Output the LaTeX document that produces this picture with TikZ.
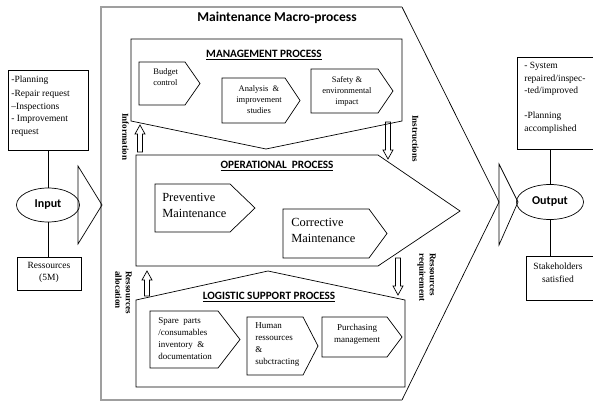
\documentclass[tikz,border=0pt]{standalone}
\usepackage{fontspec}
\setmainfont{Liberation Serif}
\newfontfamily\headfont{Carlito}
\usepackage{xcolor}
\usepackage{tikz}
\usetikzlibrary{shapes.geometric}

\begin{document}
\begin{tikzpicture}[x=1pt,y=-1pt,line width=0.7pt,
    frame/.style={draw=gray!75,line width=1.5pt},
    sidebox/.style={draw,rectangle,inner sep=0pt,anchor=north west},
    endell/.style={draw,ellipse,inner sep=0pt,font=\headfont\bfseries\fontsize{12}{14}\selectfont},
    headtxt/.style={font=\headfont\bfseries\fontsize{11.2}{13}\selectfont},
    sidetxt/.style={font=\fontsize{9.5}{12.5}\selectfont,align=left,inner sep=0pt},
    mgtxt/.style={font=\fontsize{8.5}{11}\selectfont,align=center,inner sep=0pt},
    optxt/.style={font=\fontsize{12.4}{16}\selectfont,align=left,inner sep=0pt,anchor=west},
    lgtxt/.style={font=\fontsize{9}{12}\selectfont,align=left,inner sep=0pt},
    vlab/.style={font=\bfseries\fontsize{9}{10.5}\selectfont,rotate=-90,align=left,anchor=west,inner sep=0pt}]
    \useasboundingbox (0,0) rectangle (593,403);

    \draw (402,7) -- (499,202) -- (402,400);
    \draw[frame] (402,7) -- (101,7) -- (101,400) -- (402,400);
    \node[headtxt,font=\headfont\bfseries\fontsize{13.5}{16}\selectfont] (macro) at (277,18) {Maintenance Macro-process};

    \draw (131,39) -- (402,39) -- (402,121) -- (266,149) -- (131,121) -- cycle;
    \draw (136,155) -- (378,155) -- (460,211) -- (378,266) -- (136,266) -- cycle;
    \draw (136,300) -- (268,271) -- (405,300) -- (405,387) -- (136,387) -- cycle;
    \node[headtxt] (mgmt) at (264,55) {\underline{MANAGEMENT PROCESS}};
    \node[headtxt] (oper) at (277,166) {\underline{OPERATIONAL\ \ PROCESS}};
    \node[headtxt] (logi) at (269,297) {\underline{LOGISTIC SUPPORT PROCESS}};

    \foreach \xa/\xb/\xc/\ya/\yb in {139/185/200/62/105, 222/285/300/78/123, 311/378/393/69/113,
        155/230/255/184/232, 283/369/387/209/258,
        150/218/240/311/368, 247/303/318/317/375, 322/387/402/317/357}
        \draw (\xa,\ya) -- (\xb,\ya) -- (\xc,{(\ya+\yb)/2}) -- (\xb,\yb) -- (\xa,\yb) -- cycle;

    \node[mgtxt,align=left,anchor=west] (budget) at (153,77.5) {Budget\\control};
    \node[mgtxt] (analysis) at (259,100) {Analysis\ \ \&\\improvement\\studies};
    \node[mgtxt] (safety) at (347,91) {Safety \&\\environmental\\impact};
    \node[optxt] (prev) at (162,205) {Preventive\\Maintenance};
    \node[optxt] (corr) at (291,230) {Corrective\\Maintenance};
    \node[lgtxt,anchor=west] (spare) at (158,339) {Spare\ \ parts\\/consumables\\inventory\ \ \&\\documentation};
    \node[lgtxt,anchor=west] (human) at (255,345) {Human\\ressources\\\&\\subctracting};
    \node[lgtxt,align=center] (purch) at (357,334) {Purchasing\\management};

    \foreach \x/\ya/\yb/\s in {140/152/125/-1, 388/122/159/1, 147/296/271/-1, 398/258/295/1}
        \draw ({\x-2.5},\ya) -- ({\x-2.5},{\yb-9*\s}) -- ({\x-5},{\yb-9*\s}) -- (\x,\yb)
            -- ({\x+5},{\yb-9*\s}) -- ({\x+2.5},{\yb-9*\s}) -- ({\x+2.5},\ya) -- cycle;
    \node[vlab] (info) at (125.5,113) {Information};
    \node[vlab] (instr) at (415.5,115) {Instructions};
    \node[vlab] (alloc) at (123.5,271) {Ressources\\allocation};
    \node[vlab] (requir) at (426.5,253) {Ressources\\requirement};

    \draw (78,166) -- (102,205) -- (78,244) -- cycle;
    \draw (499,164) -- (518,202) -- (499,245) -- cycle;

    \node[sidebox,minimum width=80pt,minimum height=80pt] (inbox) at (8,70) {};
    \node[sidetxt,anchor=north west] (intxt) at (11,76) {-Planning\\[1.5pt]-Repair request\\--Inspections\\- Improvement\\request};
    \node[endell,minimum width=63pt,minimum height=34pt] (input) at (48,205) {Input};
    \node[sidebox,minimum width=64pt,minimum height=33pt] (resbox) at (17,257) {};
    \node[sidetxt,align=center] (restxt) at (49,272.5) {Ressources\\(5M)};
    \draw (input.north) -- (input.north |- inbox.south);
    \draw (input.south) -- (input.south |- resbox.north);

    \node[sidebox,minimum width=76pt,minimum height=92pt] (outbox) at (517,57) {};
    \node[sidetxt,anchor=north west] (outtxt) at (524,62) {- System\\repaired/inspec-\\-ted/improved\\[12.5pt]-Planning\\accomplished};
    \node[endell,minimum width=67pt,minimum height=35pt] (output) at (550,202) {Output};
    \node[sidebox,minimum width=67pt,minimum height=44pt] (stake) at (526,256) {};
    \node[sidetxt,align=center] (staketxt) at (558,272.5) {Stakeholders\\satisfied};
    \draw (output.north) -- (output.north |- outbox.south);
    \draw (output.south) -- (output.south |- stake.north);
\end{tikzpicture}
\end{document}
